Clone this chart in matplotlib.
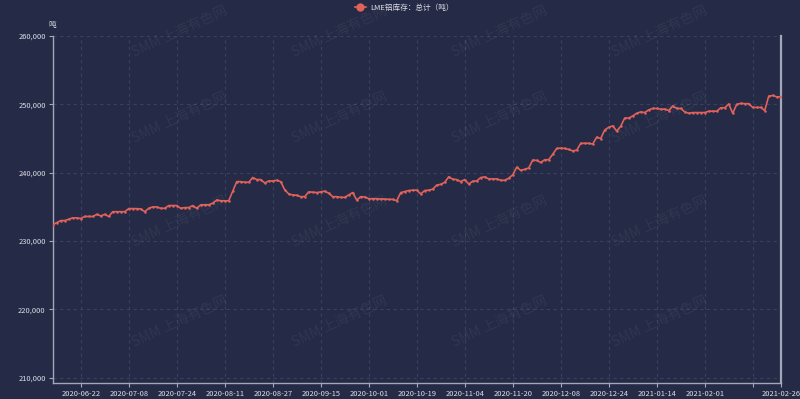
import matplotlib
matplotlib.use("Agg")
import matplotlib.pyplot as plt
from matplotlib.lines import Line2D
from matplotlib.ticker import FuncFormatter
import pandas as pd

plt.rcParams['font.family'] = ['Noto Sans CJK SC', 'DejaVu Sans']

# LME trading days (UK holidays excluded)
uk_holidays = ['2020-08-31', '2020-12-25', '2020-12-28', '2021-01-01']
dates = pd.bdate_range('2020-06-11', '2021-02-26', freq='C', holidays=uk_holidays)
categories = [d.strftime('%Y-%m-%d') for d in dates]

# LME aluminium stocks, total (tonnes), in thousands
values_k = [
    232.4, 232.7, 233.0, 233.0, 233.2, 233.4, 233.4, 233.3, 233.6, 233.6,
    233.6, 233.9, 233.7, 233.9, 233.6, 234.3, 234.3, 234.3, 234.3, 234.75,
    234.75, 234.75, 234.7, 234.3, 234.8, 235.0, 235.0, 234.8, 234.8, 235.2,
    235.2, 235.2, 234.8, 234.9, 234.9, 235.2, 234.8, 235.3, 235.3, 235.3,
    235.55, 236.0, 235.9, 235.9, 235.9, 237.3, 238.7, 238.7, 238.6, 238.6,
    239.3, 239.0, 239.0, 238.5, 238.8, 238.8, 238.9, 238.7, 237.5, 236.9,
    236.75, 236.7, 236.5, 236.5, 237.2, 237.15, 237.1, 237.2, 237.3, 237.0,
    236.5, 236.5, 236.4, 236.4, 236.75, 237.1, 236.0, 236.5, 236.45, 236.2,
    236.2, 236.2, 236.15, 236.15, 236.1, 236.1, 235.9, 237.1, 237.25, 237.4,
    237.45, 237.45, 236.9, 237.4, 237.45, 237.6, 238.2, 238.3, 238.6, 239.4,
    239.05, 239.0, 238.7, 239.0, 238.35, 238.75, 238.8, 239.3, 239.4, 239.1,
    239.1, 239.1, 238.9, 238.9, 239.2, 239.7, 240.8, 240.35, 240.5, 240.7,
    241.85, 241.8, 241.5, 241.9, 241.9, 242.7, 243.55, 243.6, 243.55, 243.4,
    243.2, 243.3, 244.3, 244.3, 244.3, 244.2, 245.2, 245.0, 246.25, 246.65,
    246.85, 246.1, 246.8, 248.0, 248.0, 248.3, 248.7, 248.9, 248.8, 249.2,
    249.4, 249.4, 249.3, 249.3, 249.1, 249.75, 249.4, 249.4, 248.9, 248.7,
    248.8, 248.8, 248.8, 248.8, 249.0, 249.0, 249.0, 249.5, 249.5, 250.05,
    248.7, 250.0, 250.15, 250.1, 250.1, 249.55, 249.55, 249.55, 249.1, 251.2,
    251.3, 251.1, 251.1,
]
values = [v * 1000 for v in values_k]

y_ticks = [210000, 220000, 230000, 240000, 250000, 260000]
series_name = 'LME铝库存：总计（吨）'
unit_label = '吨'

n = min(len(categories), len(values))
categories = categories[:n]
values = values[:n]
x = list(range(n))

BG = '#252a46'
GRID = '#38415f'
AXIS = '#a3a7b8'
TEXT = '#dcdee6'
LINE = '#e0625a'

fig = plt.figure(figsize=(8.0, 3.99), dpi=100, facecolor=BG)
ax = fig.add_axes([0.0659, 0.0393, 0.9100, 0.8705])
ax.set_facecolor(BG)

# watermarks
for wy in [32, 118, 222, 322]:
    for wx in [180, 340, 500, 660]:
        fig.text(wx / 800, 1 - wy / 399, 'SMM 上海有色网', rotation=25,
                 ha='center', va='center', fontsize=10, color='#ffffff',
                 alpha=0.06, zorder=0)

ax.plot(x, values, color=LINE, lw=1.2, marker='o', ms=1.8,
        markerfacecolor=LINE, markeredgewidth=0, zorder=3)

ax.set_xlim(0, n - 1)
ax.set_ylim(209200, 260000)

tick_idx = list(range(7, n, 12))
if (n - 1) not in tick_idx:
    tick_idx.append(n - 1)
labels = []
for i in tick_idx:
    if i == n - 1 or (n - 1 - i) >= 12:
        labels.append(categories[i])
    else:
        labels.append('')
ax.set_xticks(tick_idx)
ax.set_xticklabels(labels)
ax.set_yticks(y_ticks)
ax.yaxis.set_major_formatter(FuncFormatter(lambda v, p: f'{int(v):,}'))

ax.tick_params(axis='both', colors=AXIS, labelcolor=TEXT, labelsize=5.4,
               length=3, width=0.8, pad=2)

ax.grid(True, color=GRID, linestyle=(0, (3, 3)), linewidth=0.8)
ax.set_axisbelow(True)

for s in ['left', 'bottom', 'right']:
    ax.spines[s].set_color(AXIS)
    ax.spines[s].set_linewidth(1.0)
ax.spines['right'].set_linewidth(1.6)
ax.spines['top'].set_visible(False)

fig.text(52 / 800, 1 - 25 / 399, unit_label, ha='center', va='center',
         fontsize=5.5, color=TEXT)

handle = Line2D([0], [0], color=LINE, lw=1.2, marker='o', ms=6,
                markerfacecolor=LINE, markeredgewidth=0)
fig.legend([handle], [series_name], loc='center', bbox_to_anchor=(0.505, 1 - 8 / 399),
           frameon=False, fontsize=5.5, labelcolor=TEXT, handlelength=1.5,
           handletextpad=0.5, borderaxespad=0)

fig.savefig('out.png', dpi=100, facecolor=BG)
